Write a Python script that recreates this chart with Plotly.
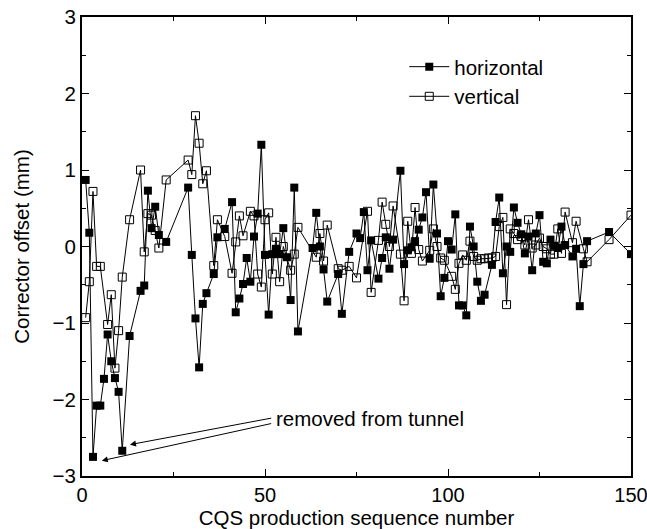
import plotly.graph_objects as go

# horizontal corrector offsets (filled squares)
h_seq = [1, 2, 3, 4, 5, 6, 7, 8, 9, 10, 11, 13, 16, 17, 18, 19, 20, 21, 23, 29,
         30, 31, 32, 33, 34, 36, 37, 39, 41, 42, 43, 44, 45, 46, 47, 48, 49, 50,
         51, 52, 53, 54, 55, 56, 57, 58, 59, 63, 64, 65, 66, 67, 70, 71, 73, 75,
         76, 77, 78, 79, 81, 82, 83, 84, 85, 87, 88, 89, 90, 91, 92, 93, 94, 95,
         96, 97, 98, 99, 100, 101, 102, 103, 104, 105, 106, 107, 108, 109, 110,
         112, 113, 114, 115, 116, 117, 118, 119, 120, 121, 122, 123, 124, 125,
         126, 127, 128, 129, 130, 131, 132, 134, 135, 136, 137, 138, 144, 150]
h_off = [0.87, 0.18, -2.75, -2.08, -2.08, -1.73, -1.15, -1.50, -1.72, -1.90, -2.67,
         -1.17, -0.58, -0.51, 0.73, 0.24, 0.52, 0.15, 0.06, 0.77,
         -0.11, -0.94, -1.58, -0.75, -0.61, -0.36, 0.12, 0.23, 0.58, -0.86, -0.68,
         -0.49, -0.15, -0.46, 0.13, 0.43, 1.33, -0.11,
         -0.89, -0.10, -0.03, -0.10, 0.24, -0.14, -0.70, 0.77, -1.11, -0.02, 0.44,
         0.00, -0.30, -0.72, -0.36, -0.88, -0.07, 0.17,
         0.11, 0.45, -0.31, 0.08, -0.42, -0.15, 0.12, -0.29, 0.09, 0.99, -0.23,
         -0.05, -0.01, 0.07, 0.22, 0.38, 0.71, -0.16,
         0.81, 0.17, -0.65, -0.41, 0.07, -0.04, 0.42, -0.77, -0.77, -0.90, 0.26,
         0.00, -0.46, -0.71, -0.63,
         -0.24, 0.32, 0.64, -0.35, 0.00, -0.07, 0.51, 0.31, 0.16, -0.09, 0.13,
         -0.31, 0.17, 0.41,
         -0.20, -0.22, 0.09, 0.01, -0.02, 0.26, 0.02, -0.13, -0.03, -0.78, -0.23,
         0.07, 0.19, -0.10]

# vertical corrector offsets (open squares)
v_seq = [1, 2, 3, 4, 5, 7, 8, 9, 10, 11, 13, 16, 17, 18, 19, 20, 21, 23, 29, 30,
         31, 32, 33, 34, 36, 37, 39, 41, 42, 43, 44, 46, 47, 48, 49, 50, 51, 52,
         53, 54, 55, 57, 58, 59, 64, 65, 66, 67, 70, 71, 73, 75, 78, 79, 81, 82,
         83, 84, 85, 87, 88, 89, 90, 91, 92, 93, 95, 96, 97, 98, 99, 101, 102,
         103, 104, 105, 106, 107, 108, 109, 110, 111, 112, 113, 114, 115, 116,
         117, 118, 119, 120, 121, 122, 123, 124, 125, 126, 127, 128, 129, 130,
         131, 132, 134, 135, 137, 138, 144, 150]
v_off = [-0.93, -0.46, 0.72, -0.26, -0.26, -1.02, -0.63, -1.59, -1.10, -0.40,
         0.35, 1.00, -0.07, 0.43, 0.41, 0.21, -0.02, 0.87, 1.13, 0.94,
         1.71, 1.35, 0.82, 0.99, -0.25, 0.35, 0.13, -0.35, 0.06, 0.40, 0.14, 0.46,
         0.40, -0.36, -0.53, 0.35, 0.44, -0.36,
         0.12, -0.46, 0.00, -0.31, -0.10, 0.25, -0.14, 0.17, -0.19, 0.28, -0.29,
         -0.31, -0.26, -0.41, 0.46, -0.60, 0.08, 0.58,
         0.29, 0.00, 0.53, -0.10, -0.71, 0.33, -0.09, 0.51, -0.04, -0.19, -0.05,
         0.23, 0.00, -0.15, -0.18, -0.39, -0.56,
         -0.22, -0.11, -0.18, 0.07, -0.13, -0.18, -0.16, -0.16, -0.15, -0.15,
         -0.13, 0.26, 0.38, -0.76,
         0.23, 0.17, 0.09, 0.13, 0.02, 0.35, -0.02, 0.02, 0.11, 0.00, -0.03,
         -0.10, -0.10, 0.23,
         -0.09, 0.45, 0.05, 0.33, -0.03, -0.20, 0.09, 0.41]

# magnets pulled from the tunnel (arrow targets) and where the note sits
removed_seq = [13.1, 5.4]
removed_off = [-2.59, -2.80]
note_seq = 52.1
note_off = [-2.24, -2.31]

FONT = "Liberation Sans, Arial, Helvetica, sans-serif"
FS = 20.5

fig = go.Figure()
fig.add_trace(go.Scatter(
    x=h_seq, y=h_off, mode="lines+markers", name="horizontal",
    line=dict(color="black", width=1),
    marker=dict(symbol="square", size=8, color="black"),
))
fig.add_trace(go.Scatter(
    x=v_seq, y=v_off, mode="lines+markers", name="vertical",
    line=dict(color="black", width=1),
    marker=dict(symbol="square-open", size=8, color="black", line=dict(width=1)),
))

for hx, hy, ty in zip(removed_seq, removed_off, note_off):
    fig.add_annotation(x=hx, y=hy, ax=note_seq, ay=ty, axref="x", ayref="y",
                       xref="x", yref="y", text="", showarrow=True,
                       arrowhead=2, arrowsize=1.2, arrowwidth=1, arrowcolor="black")
fig.add_annotation(x=note_seq + 0.3, y=-2.25, xref="x", yref="y",
                   text="removed from tunnel", showarrow=False,
                   xanchor="left", yanchor="middle",
                   font=dict(family=FONT, size=FS, color="black"))

axis_common = dict(
    showgrid=False, zeroline=False, showline=True, linecolor="black",
    linewidth=2, mirror="ticks", ticks="inside", ticklen=7, tickwidth=1,
    tickcolor="black", automargin=False, ticklabeloverflow="allow",
)

fig.update_xaxes(range=[0, 150], dtick=50, tick0=0,
                 tickfont=dict(family=FONT, size=20, color="black"),
                 minor=dict(dtick=25, ticks="inside", ticklen=4, tickcolor="black"),
                 title=dict(text="CQS production sequence number",
                            font=dict(family=FONT, size=FS, color="black"),
                            standoff=6),
                 **axis_common)
fig.update_yaxes(range=[-3, 3], dtick=1, tick0=0,
                 tickfont=dict(family=FONT, size=FS, color="black"),
                 minor=dict(dtick=0.5, ticks="inside", ticklen=4, tickcolor="black"),
                 title=dict(text="Corrector offset (mm)",
                            font=dict(family=FONT, size=FS, color="black"),
                            standoff=17),
                 **axis_common)

fig.update_layout(
    width=647, height=529,
    margin=dict(l=82, r=16, t=17, b=53, autoexpand=False),
    paper_bgcolor="white", plot_bgcolor="white",
    font=dict(family=FONT, size=FS, color="black"),
    legend=dict(x=0.587, y=0.935, xanchor="left", yanchor="top",
                bgcolor="rgba(0,0,0,0)", tracegroupgap=0,
                font=dict(family=FONT, size=FS, color="black"),
                itemwidth=40),
)

# drop the default 8px page margin so the figure fills the window exactly
fig.write_html("out.html", config={"displayModeBar": False},
               post_script="document.body.style.margin='0';")
